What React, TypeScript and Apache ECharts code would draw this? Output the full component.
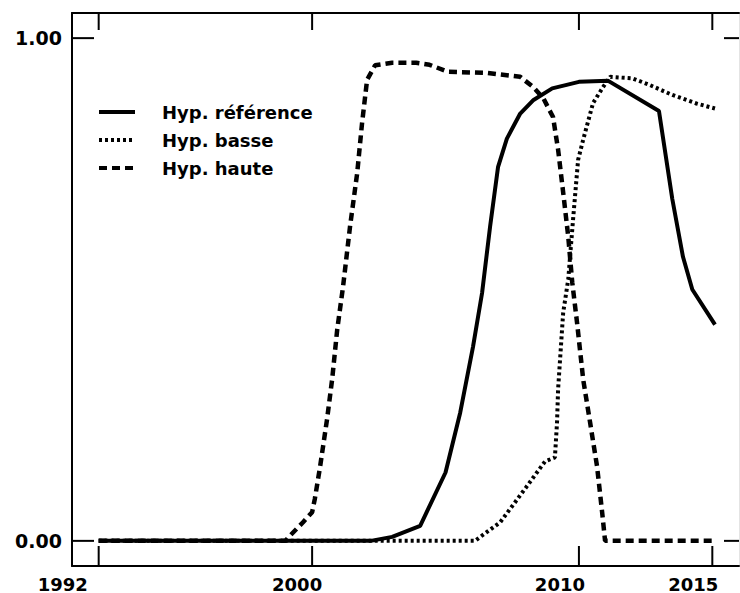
import React, { useEffect, useRef } from "react";
import * as echarts from "echarts";

// Hyp. référence
const refYears = [1992, 2002.2, 2003, 2004.05, 2005.0, 2005.55, 2006.03, 2006.37, 2006.67, 2006.97, 2007.3, 2007.8, 2008.3, 2009.0, 2010.0, 2011.1, 2013.0, 2013.5, 2013.9, 2014.25, 2015.1];
const refValues = [0, 0, 0.008, 0.03, 0.136, 0.255, 0.386, 0.493, 0.625, 0.744, 0.8, 0.85, 0.877, 0.9, 0.913, 0.915, 0.855, 0.68, 0.565, 0.5, 0.43];

// Hyp. basse
const lowYears = [1992, 2006.1, 2007.05, 2008.0, 2008.73, 2009.1, 2009.18, 2009.22, 2009.41, 2009.6, 2009.78, 2009.97, 2010.16, 2010.53, 2010.91, 2011.17, 2012.0, 2012.6, 2013.5, 2014.4, 2015.1];
const lowValues = [0, 0, 0.037, 0.105, 0.158, 0.166, 0.236, 0.302, 0.454, 0.52, 0.639, 0.758, 0.798, 0.871, 0.903, 0.923, 0.92, 0.908, 0.887, 0.87, 0.86];

// Hyp. haute
const highYears = [1992, 1999.0, 1999.2, 1999.66, 2000.0, 2000.1, 2000.3, 2000.56, 2000.75, 2000.94, 2001.16, 2001.42, 2001.69, 2001.87, 2002.06, 2002.36, 2003.0, 2003.9, 2004.4, 2005.1, 2006.5, 2007.8, 2008.28, 2008.66, 2009.03, 2009.22, 2009.41, 2009.6, 2009.75, 2009.93, 2010.16, 2010.42, 2010.68, 2010.87, 2010.98, 2015.0];
const highValues = [0, 0, 0.012, 0.037, 0.057, 0.083, 0.148, 0.242, 0.321, 0.42, 0.506, 0.625, 0.732, 0.83, 0.917, 0.946, 0.951, 0.951, 0.947, 0.933, 0.931, 0.923, 0.903, 0.881, 0.843, 0.778, 0.693, 0.605, 0.514, 0.434, 0.321, 0.235, 0.148, 0.057, 0, 0];

const seriesNames = ["Hyp. référence", "Hyp. basse", "Hyp. haute"];
const xTickYears = [1992, 2000, 2010, 2015];
const yTickValues = [0, 1];

const X_MIN = 1991;
const X_MAX = 2016;
const Y_MIN = -0.05;
const Y_MAX = 1.05;

const GRID = { left: 72, top: 13, width: 667, height: 554 };

const pairs = (xs: number[], ys: number[]) => xs.map((x, i) => [x, ys[i]]);

const FONT = "DejaVu Sans";

export default function App() {
  const ref = useRef<HTMLDivElement>(null);
  useEffect(() => {
    if (!ref.current) return;
    const chart = echarts.init(ref.current, null, { renderer: "svg" });
    const labelShift: Record<string, number> = { "1992": 72, "2000": 30, "2010": 38, "2015": 38 };
    const rich: Record<string, any> = {};
    xTickYears.forEach((y) => {
      rich["y" + y] = {
        fontFamily: FONT,
        fontWeight: "bold",
        fontSize: 18,
        color: "#000",
        padding: [0, labelShift[String(y)] || 0, 0, 0],
      };
    });
    chart.setOption({
      animation: false,
      backgroundColor: "#fff",
      grid: { ...GRID, containLabel: false },
      legend: {
        orient: "vertical",
        left: 92,
        top: 98,
        padding: 5,
        itemWidth: 36,
        itemHeight: 14,
        itemGap: 10,
        data: seriesNames,
        itemStyle: { opacity: 0 },
        lineStyle: { width: 4 },
        textStyle: {
          fontFamily: FONT,
          fontWeight: "bold",
          fontSize: 18,
          color: "#000",
          padding: [0, 0, 0, 22],
        },
      },
      xAxis: [
        {
          type: "value",
          min: X_MIN,
          max: X_MAX,
          position: "bottom",
          axisLine: { show: true, onZero: false, lineStyle: { color: "#000", width: 2 } },
          axisTick: { show: false },
          axisLabel: {
            show: true,
            customValues: xTickYears,
            margin: 9,
            formatter: (v: number) => `{y${v}|${v}}`,
            rich,
          },
          splitLine: { show: false },
        },
        {
          type: "value",
          min: X_MIN,
          max: X_MAX,
          position: "top",
          axisLine: { show: true, onZero: false, lineStyle: { color: "#000", width: 2 } },
          axisTick: { show: false },
          axisLabel: { show: false },
          splitLine: { show: false },
        },
      ],
      yAxis: [
        {
          type: "value",
          min: Y_MIN,
          max: Y_MAX,
          position: "left",
          axisLine: { show: true, onZero: false, lineStyle: { color: "#000", width: 2 } },
          axisTick: { show: false },
          axisLabel: {
            show: true,
            customValues: yTickValues,
            margin: 10,
            formatter: (v: number) => v.toFixed(2),
            fontFamily: FONT,
            fontWeight: "bold",
            fontSize: 19,
            color: "#000",
          },
          splitLine: { show: false },
        },
        {
          type: "value",
          min: Y_MIN,
          max: Y_MAX,
          position: "right",
          axisLine: { show: true, onZero: false, lineStyle: { color: "#e4e4e4", width: 1 } },
          axisTick: { show: false },
          axisLabel: { show: false },
          splitLine: { show: false },
        },
      ],
      series: [
        {
          name: seriesNames[0],
          type: "line",
          symbol: "none",
          data: pairs(refYears, refValues),
          lineStyle: { color: "#000", width: 4, type: "solid" },
          itemStyle: { color: "#000" },
          z: 3,
        },
        {
          name: seriesNames[1],
          type: "line",
          symbol: "none",
          data: pairs(lowYears, lowValues),
          lineStyle: { color: "#000", width: 4, type: [3, 3] },
          itemStyle: { color: "#000" },
          z: 2,
        },
        {
          name: seriesNames[2],
          type: "line",
          symbol: "none",
          data: pairs(highYears, highValues),
          lineStyle: { color: "#000", width: 4.5, type: [8, 5] },
          itemStyle: { color: "#000" },
          z: 2,
        },
      ],
    });

    // Tick marks: pixel positions from the chart's scales, with a linear fallback
    const toPx = (v: number[]): number[] => {
      let p: any = null;
      try {
        p = chart.convertToPixel({ xAxisIndex: 0, yAxisIndex: 0 } as any, v);
      } catch (e) {
        p = null;
      }
      if (!p || !isFinite(p[0]) || !isFinite(p[1])) {
        p = [
          GRID.left + ((v[0] - X_MIN) / (X_MAX - X_MIN)) * GRID.width,
          GRID.top + ((Y_MAX - v[1]) / (Y_MAX - Y_MIN)) * GRID.height,
        ];
      }
      return p;
    };
    const elements: any[] = [];
    const mk = (x1: number, y1: number, x2: number, y2: number) => ({
      type: "line",
      z: 100,
      silent: true,
      shape: { x1, y1, x2, y2 },
      style: { stroke: "#000", lineWidth: 2, fill: null },
    });
    xTickYears.forEach((v) => {
      const b = toPx([v, Y_MIN]);
      const t = toPx([v, Y_MAX]);
      elements.push(mk(b[0], b[1], b[0], b[1] - 20));
      elements.push(mk(t[0], t[1], t[0], t[1] + 17));
    });
    yTickValues.forEach((v) => {
      const l = toPx([X_MIN, v]);
      const r = toPx([X_MAX, v]);
      elements.push(mk(l[0], l[1], l[0] + 22, l[1]));
      elements.push(mk(r[0], r[1], r[0] - 15, r[1]));
    });
    chart.setOption({ graphic: { elements } });

    return () => chart.dispose();
  }, []);
  return (
    <div
      ref={ref}
      style={{ position: "fixed", left: 0, top: 0, width: 740, height: 593, background: "#fff" }}
    />
  );
}
